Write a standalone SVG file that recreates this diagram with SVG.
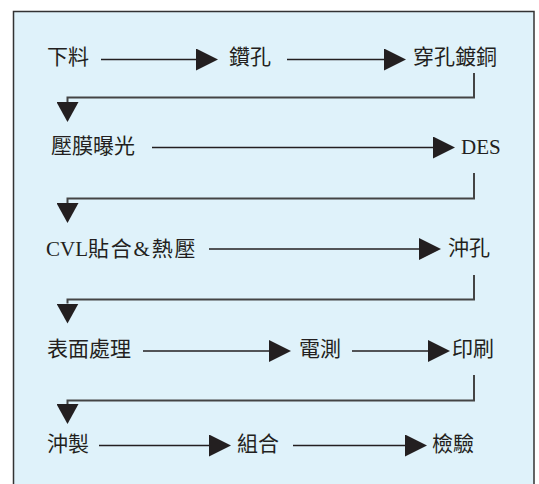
<svg xmlns="http://www.w3.org/2000/svg" width="539" height="484" viewBox="0 0 539 484">
<style>
.lbl{font-family:"Liberation Serif","Noto Sans CJK TC",serif;font-size:21px;fill:#231f20}
.arr{stroke:#231f20;stroke-width:1.6;fill:none}
.con{stroke:#444;stroke-width:2;fill:none}
</style>
<defs>
<marker id="ah" markerUnits="userSpaceOnUse" viewBox="0 0 22 22" refX="0" refY="11" markerWidth="22" markerHeight="22" orient="auto">
<path d="M0,0 L22,11 L0,22 z" fill="#231f20"/>
</marker>
<marker id="dh" markerUnits="userSpaceOnUse" viewBox="0 0 20 22" refX="0" refY="11" markerWidth="20" markerHeight="22" orient="auto">
<path d="M0,0 L20,11 L0,22 z" fill="#231f20"/>
</marker>
</defs>
<rect x="13.5" y="11.5" width="520.5" height="480" fill="#dff2fa" stroke="#333" stroke-width="1.5"/>
<g id="connectors">
<line class="arr" x1="101" y1="59.5" x2="196" y2="59.5" marker-end="url(#ah)"/>
<line class="arr" x1="287" y1="59.5" x2="384" y2="59.5" marker-end="url(#ah)"/>
<path class="con" d="M474,73 V97.5 H67.5 V102" marker-end="url(#dh)"/>
<line class="arr" x1="152" y1="147.5" x2="433" y2="147.5" marker-end="url(#ah)"/>
<path class="con" d="M474,173 V198.5 H67.5 V203" marker-end="url(#dh)"/>
<line class="arr" x1="209" y1="249" x2="419" y2="249" marker-end="url(#ah)"/>
<path class="con" d="M474,275 V299.5 H67.5 V303.5" marker-end="url(#dh)"/>
<line class="arr" x1="143" y1="351" x2="269" y2="351" marker-end="url(#ah)"/>
<line class="arr" x1="352" y1="351" x2="428" y2="351" marker-end="url(#ah)"/>
<path class="con" d="M474,375 V400.5 H67.5 V404" marker-end="url(#dh)"/>
<line class="arr" x1="99" y1="445.5" x2="209" y2="445.5" marker-end="url(#ah)"/>
<line class="arr" x1="293" y1="445.5" x2="405" y2="445.5" marker-end="url(#ah)"/>
</g>
<g id="n1"><text class="lbl" x="47" y="64">下料</text></g>
<g id="n2"><text class="lbl" x="229" y="64">鑽孔</text></g>
<g id="n3"><text class="lbl" x="413" y="64">穿孔鍍銅</text></g>
<g id="n4"><text class="lbl" x="51" y="153">壓膜曝光</text></g>
<g id="n5"><text class="lbl" x="461" y="154">DES</text></g>
<g id="n6"><text class="lbl" x="46" y="256">CVL<tspan letter-spacing="1.8">貼合&amp;熱壓</tspan></text></g>
<g id="n7"><text class="lbl" x="448" y="255">沖孔</text></g>
<g id="n8"><text class="lbl" x="47" y="356">表面處理</text></g>
<g id="n9"><text class="lbl" x="299" y="356">電測</text></g>
<g id="n10"><text class="lbl" x="452" y="356">印刷</text></g>
<g id="n11"><text class="lbl" x="47" y="451">沖製</text></g>
<g id="n12"><text class="lbl" x="237" y="451">組合</text></g>
<g id="n13"><text class="lbl" x="432" y="451">檢驗</text></g>
</svg>
